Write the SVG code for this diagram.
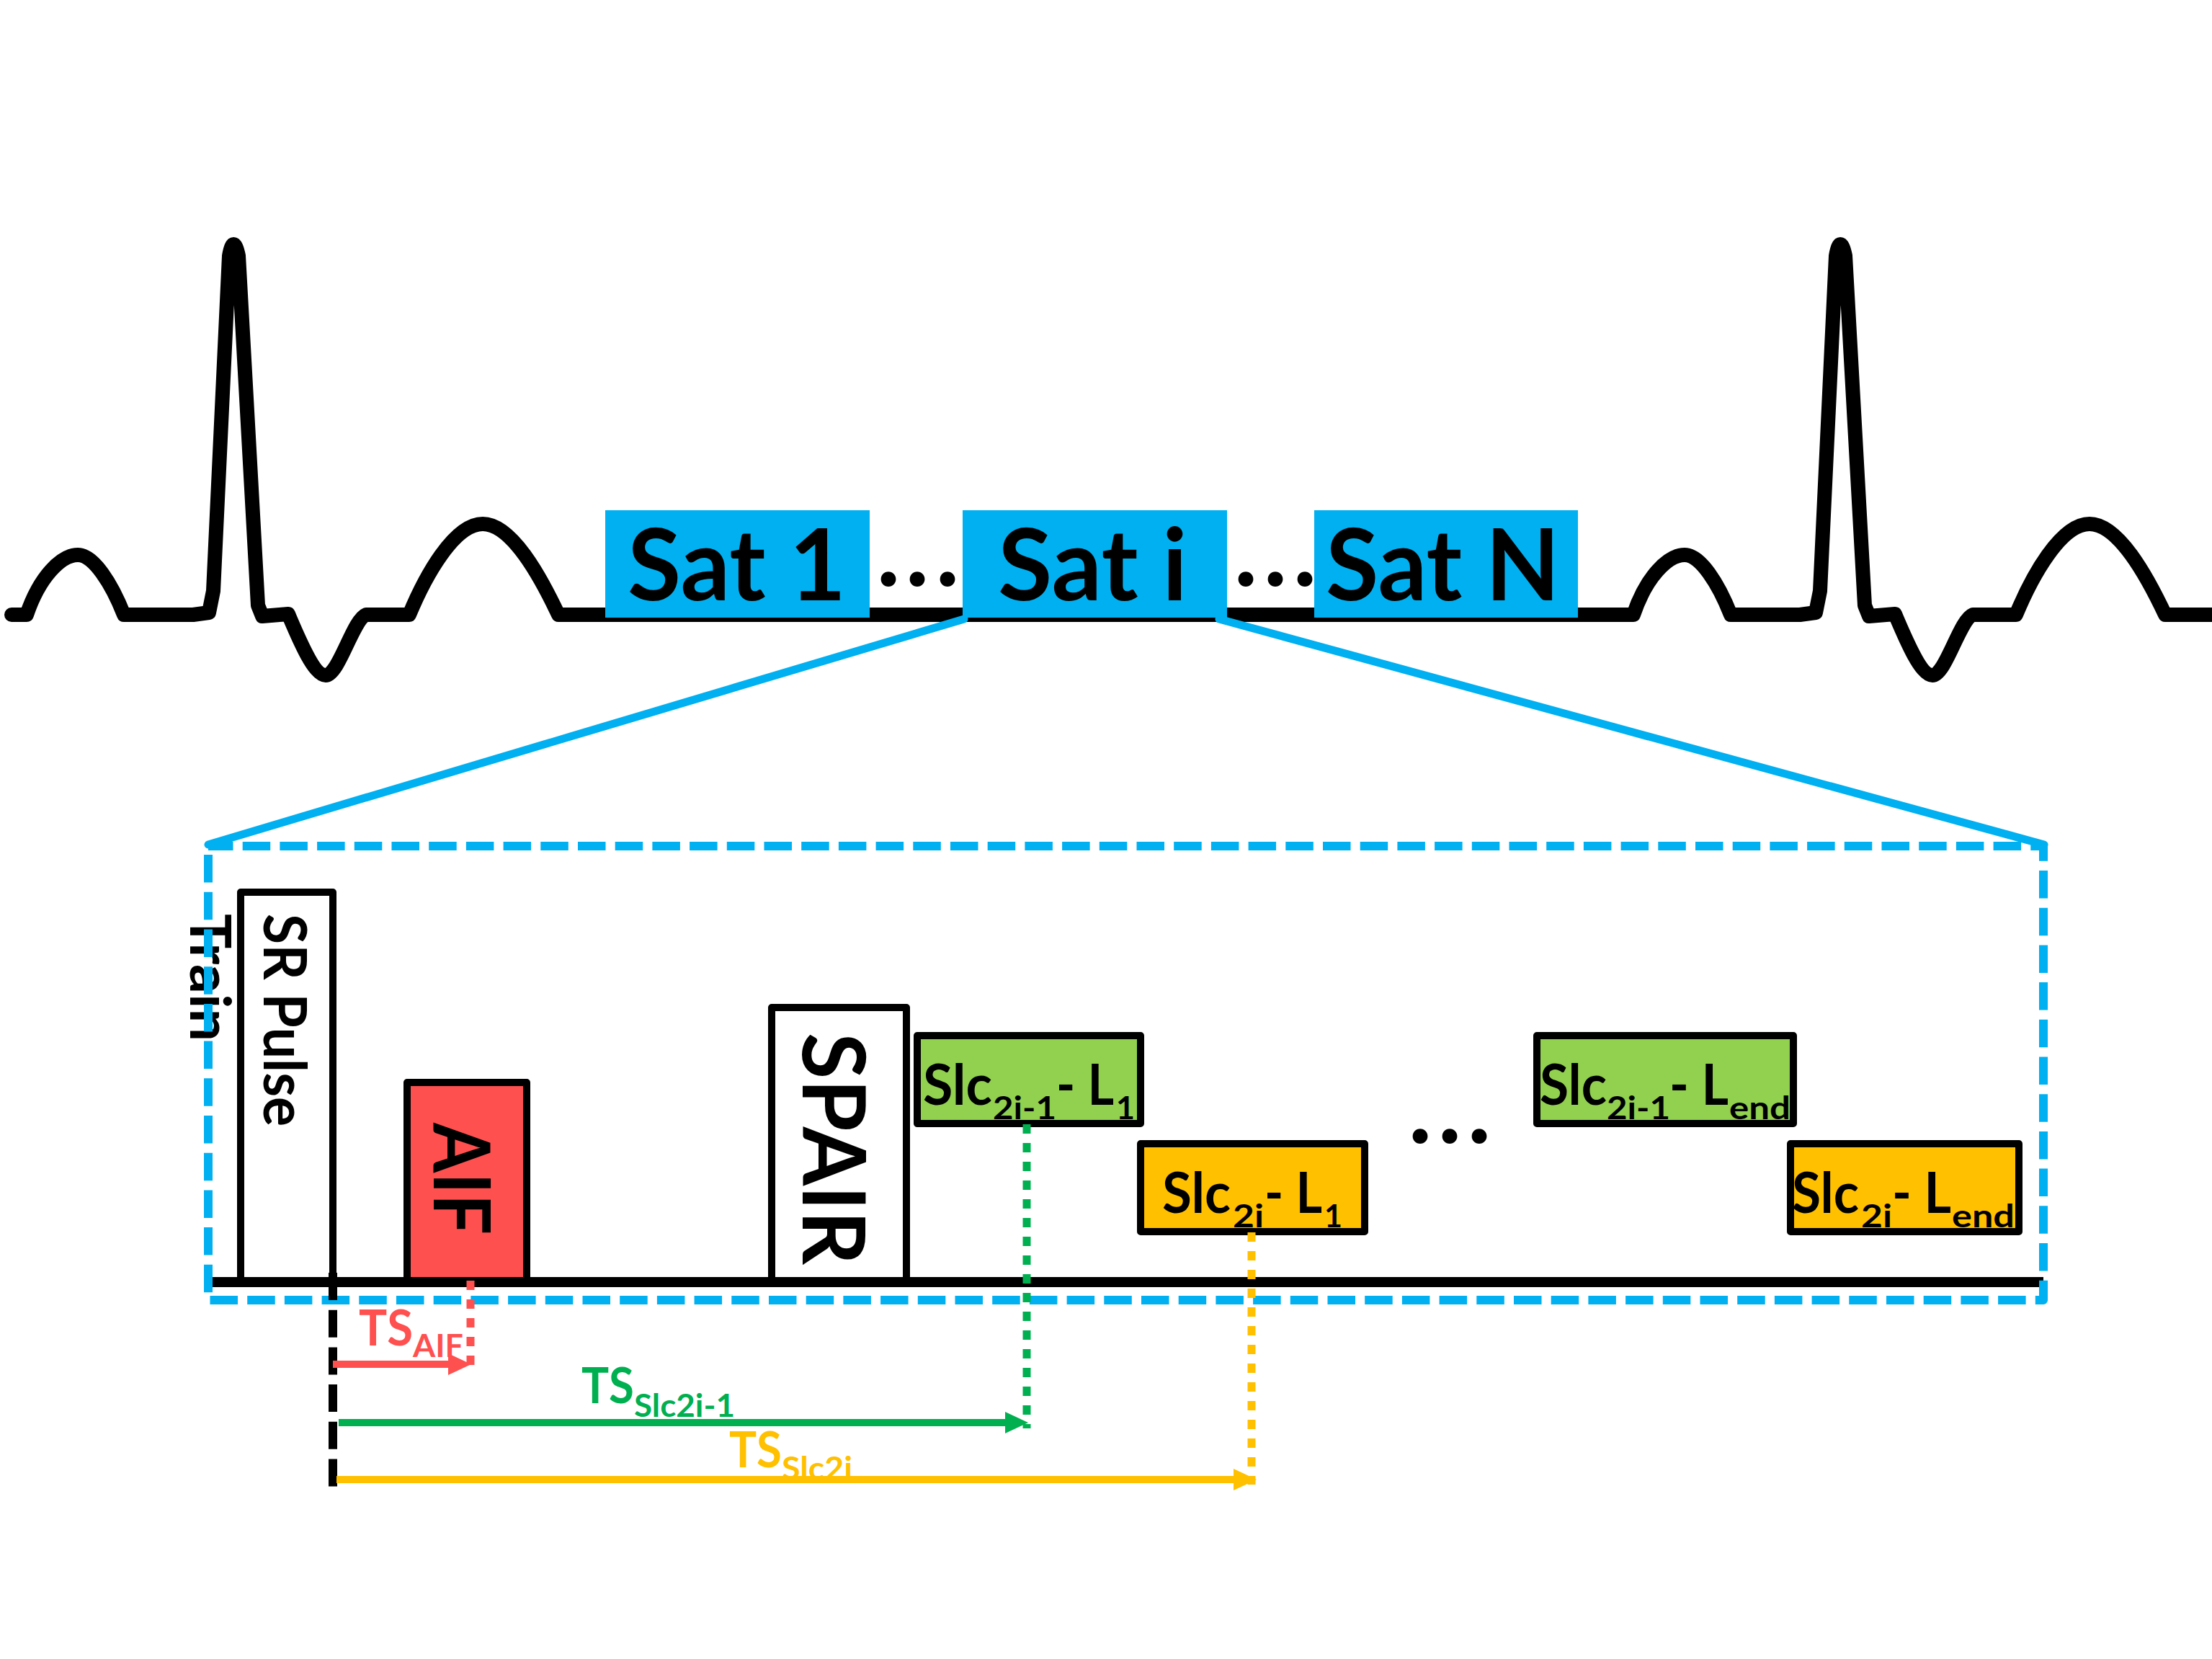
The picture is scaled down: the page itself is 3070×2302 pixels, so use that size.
<svg xmlns="http://www.w3.org/2000/svg" width="3070" height="2302" viewBox="0 0 3070 2302">
<defs>
<style>
text{font-family:Lato,"Liberation Sans","Noto Sans",sans-serif;font-weight:700;fill:#000}
.ecg{fill:none;stroke:#000;stroke-width:20;stroke-linejoin:round;stroke-linecap:round}
.zoomline{stroke:#00B0F0;stroke-width:11;stroke-linecap:round}
.sat{fill:#00B0F0}
.satt{font-size:137px}
.dots{font-size:137px}
.box{stroke:#000;stroke-width:10;stroke-linejoin:round}
.white{fill:#fff}
.red{fill:#FF5050}
.green{fill:#92D050}
.yellow{fill:#FFC000}
.main{font-size:78px}
.sub{font-size:44px}
.frame{fill:none;stroke:#00B0F0;stroke-width:12;stroke-dasharray:38.5 13.2;stroke-dashoffset:4;stroke-linejoin:round}
.axis{stroke:#000;stroke-width:14}
.dot{stroke-width:11;stroke-dasharray:13 13}
.arrow{stroke-width:10}
.ts{font-size:68px}
.tssub{font-size:43px}
</style>
<marker id="ahR" markerUnits="userSpaceOnUse" markerWidth="32" markerHeight="30" viewBox="0 0 32 30" refX="17" refY="15" orient="auto"><path d="M0 0 L32 15 L0 30 Z" fill="#FF5050"/></marker>
<marker id="ahG" markerUnits="userSpaceOnUse" markerWidth="32" markerHeight="30" viewBox="0 0 32 30" refX="17" refY="15" orient="auto"><path d="M0 0 L32 15 L0 30 Z" fill="#00B050"/></marker>
<marker id="ahY" markerUnits="userSpaceOnUse" markerWidth="32" markerHeight="30" viewBox="0 0 32 30" refX="17" refY="15" orient="auto"><path d="M0 0 L32 15 L0 30 Z" fill="#FFC000"/></marker>
</defs>
<rect width="3070" height="2302" fill="#fff"/>

<g id="ecg">
<path class="ecg" d="M 16 853 L 37 853 c 18 -53 48 -83 71 -83 c 22 0 47 40 64 83 l 96 0 l 22 -3 l 6 -30 l 22 -465 q 6 -32 13 0 l 27 485 l 6 15 l 36 -3 c 12 28 35 85 52 85 c 18 0 38 -77 56 -84 l 60 0 c 22 -53 62 -126 102 -126 c 40 0 80 73 105 126 L 2267 853 c 18 -53 48 -83 71 -83 c 22 0 47 40 64 83 l 96 0 l 22 -3 l 6 -30 l 22 -465 q 6 -32 13 0 l 27 485 l 6 15 l 36 -3 c 12 28 35 85 52 85 c 18 0 38 -77 56 -84 l 60 0 c 22 -53 62 -126 102 -126 c 40 0 80 73 105 126 L 3080 853"/>
</g>

<g id="connectors-zoom">
<line class="zoomline" x1="1338" y1="859" x2="289" y2="1172"/>
<line class="zoomline" x1="1692" y1="859" x2="2837" y2="1172"/>
</g>

<g id="sat-1"><rect class="sat" x="840" y="708" width="367" height="149"/><text class="satt" x="871" y="833" textLength="303" lengthAdjust="spacingAndGlyphs">Sat 1</text></g>
<g id="sat-i"><rect class="sat" x="1336" y="708" width="367" height="149"/><text class="satt" x="1385" y="833" textLength="263" lengthAdjust="spacingAndGlyphs">Sat i</text></g>
<g id="sat-n"><rect class="sat" x="1824" y="708" width="366" height="149"/><text class="satt" x="1840" y="833" textLength="325" lengthAdjust="spacingAndGlyphs">Sat N</text></g>
<g id="dots-top">
<text class="dots" text-anchor="middle" x="1233 1273 1315" y="813">...</text>
<text class="dots" text-anchor="middle" x="1729 1770 1811" y="813">...</text>
</g>

<g id="train-label"><text transform="translate(264,1268) rotate(90)" font-size="78" textLength="177" lengthAdjust="spacingAndGlyphs">Train</text></g>

<g id="sr-pulse"><rect class="box white" x="334" y="1238" width="128" height="541"/><text transform="translate(366,1268) rotate(90)" font-size="82" textLength="295" lengthAdjust="spacingAndGlyphs">SR Pulse</text></g>
<g id="aif"><rect class="box red" x="565" y="1502" width="166" height="277"/><text transform="translate(602,1558) rotate(90)" font-size="110" textLength="155" lengthAdjust="spacingAndGlyphs">AIF</text></g>
<g id="spair"><rect class="box white" x="1071" y="1398" width="187" height="381"/><text transform="translate(1114,1433) rotate(90)" font-size="121" textLength="322" lengthAdjust="spacingAndGlyphs">SPAIR</text></g>

<g id="slc-2i-1-L1"><rect class="box green" x="1273" y="1437" width="310" height="122"/>
<text class="main" x="1281" y="1533" textLength="96" lengthAdjust="spacingAndGlyphs">Slc</text>
<text class="sub" x="1378" y="1553" textLength="88" lengthAdjust="spacingAndGlyphs">2i-1</text>
<text class="main" x="1466" y="1533" textLength="80" lengthAdjust="spacingAndGlyphs">- L</text>
<text class="sub" x="1549" y="1553" textLength="26" lengthAdjust="spacingAndGlyphs">1</text></g>

<g id="slc-2i-L1"><rect class="box yellow" x="1583" y="1587" width="311" height="122"/>
<text class="main" x="1613" y="1683" textLength="95" lengthAdjust="spacingAndGlyphs">Slc</text>
<text class="sub" x="1711" y="1703" textLength="43" lengthAdjust="spacingAndGlyphs">2i</text>
<text class="main" x="1755" y="1683" textLength="80" lengthAdjust="spacingAndGlyphs">- L</text>
<text class="sub" x="1838" y="1703" textLength="25" lengthAdjust="spacingAndGlyphs">1</text></g>

<g id="dots-mid"><text class="dots" text-anchor="middle" x="1971 2012 2053" y="1586">...</text></g>

<g id="slc-2i-1-Lend"><rect class="box green" x="2133" y="1437" width="356" height="122"/>
<text class="main" x="2137" y="1533" textLength="93" lengthAdjust="spacingAndGlyphs">Slc</text>
<text class="sub" x="2230" y="1553" textLength="88" lengthAdjust="spacingAndGlyphs">2i-1</text>
<text class="main" x="2317" y="1533" textLength="82" lengthAdjust="spacingAndGlyphs">- L</text>
<text class="sub" x="2400" y="1553" textLength="85" lengthAdjust="spacingAndGlyphs">end</text></g>

<g id="slc-2i-Lend"><rect class="box yellow" x="2485" y="1587" width="317" height="122"/>
<text class="main" x="2487" y="1683" textLength="93" lengthAdjust="spacingAndGlyphs">Slc</text>
<text class="sub" x="2583" y="1703" textLength="43" lengthAdjust="spacingAndGlyphs">2i</text>
<text class="main" x="2626" y="1683" textLength="82" lengthAdjust="spacingAndGlyphs">- L</text>
<text class="sub" x="2709" y="1703" textLength="87" lengthAdjust="spacingAndGlyphs">end</text></g>

<g id="time-axis"><line class="axis" x1="290" y1="1779" x2="2836" y2="1779"/></g>

<g id="zoom-frame"><rect class="frame" x="289" y="1174" width="2547" height="630"/></g>

<g id="timing-labels">
<text class="ts" x="498" y="1867" style="fill:#FF5050" textLength="75" lengthAdjust="spacingAndGlyphs">TS</text>
<text class="tssub" x="573" y="1883" style="fill:#FF5050" textLength="70" lengthAdjust="spacingAndGlyphs">AIF</text>
<text class="ts" x="807" y="1947" style="fill:#00B050" textLength="73" lengthAdjust="spacingAndGlyphs">TS</text>
<text class="tssub" x="880" y="1966" style="fill:#00B050" textLength="140" lengthAdjust="spacingAndGlyphs">Slc2i-1</text>
<text class="ts" x="1012" y="2036" style="fill:#FFC000" textLength="73" lengthAdjust="spacingAndGlyphs">TS</text>
<text class="tssub" x="1085" y="2053" style="fill:#FFC000" textLength="98" lengthAdjust="spacingAndGlyphs">Slc2i</text>
</g>

<g id="connectors">
<line x1="462" y1="1766" x2="462" y2="2063" stroke="#000" stroke-width="12" stroke-dasharray="38 13.7"/>
<line class="dot" x1="653" y1="1777" x2="653" y2="1895" stroke="#FF5050"/>
<line class="dot" x1="1425" y1="1560" x2="1425" y2="1982" stroke="#00B050"/>
<line class="dot" x1="1737" y1="1710" x2="1737" y2="2060" stroke="#FFC000"/>
<line class="arrow" x1="462" y1="1893" x2="639" y2="1893" stroke="#FF5050" marker-end="url(#ahR)"/>
<line class="arrow" x1="470" y1="1974" x2="1412" y2="1974" stroke="#00B050" marker-end="url(#ahG)"/>
<line class="arrow" x1="467" y1="2053" x2="1729" y2="2053" stroke="#FFC000" marker-end="url(#ahY)"/>
</g>
</svg>
